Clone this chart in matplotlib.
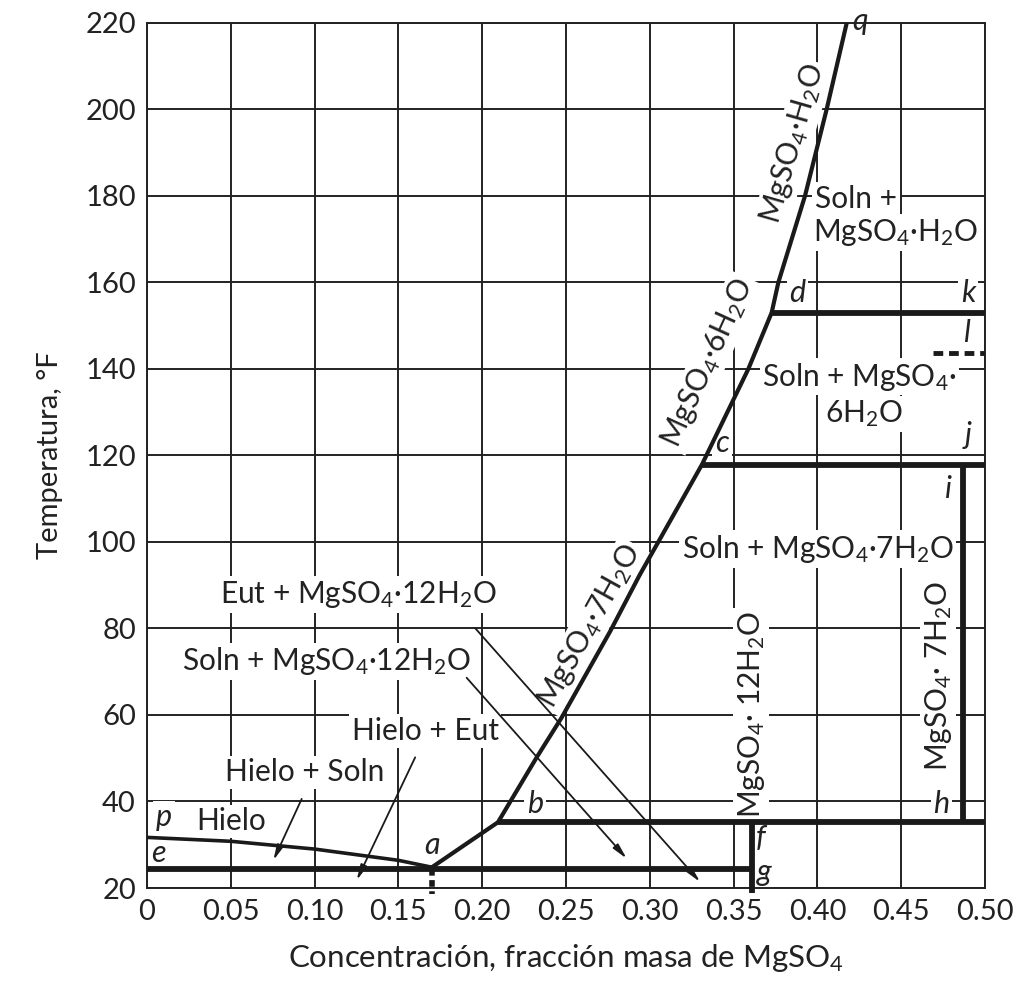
import matplotlib
matplotlib.use("Agg")
import matplotlib.pyplot as plt

plt.rcParams['font.family'] = ['Lato', 'DejaVu Sans']
plt.rcParams['mathtext.fontset'] = 'custom'
plt.rcParams['mathtext.rm'] = 'Lato'
plt.rcParams['mathtext.default'] = 'regular'

# phase boundaries (x = mass fraction MgSO4, t = deg F)
ice_x = [0.0, 0.05, 0.10, 0.15, 0.170]
ice_t = [31.7, 30.8, 29.0, 26.4, 24.8]

sat_x = [0.170, 0.2094, 0.2325, 0.2474, 0.2763, 0.294, 0.331, 0.3588, 0.3727, 0.3767, 0.3926, 0.4055, 0.4175]
sat_t = [24.8, 35.2, 50.2, 59.4, 79.3, 92.4, 117.8, 140.0, 153.0, 160.0, 180.0, 200.0, 220.0]

t_eut = 24.5
t_b = 35.2
t_c = 117.8
t_d = 153.0
t_l = 143.7
x_a = 0.170
x_b = 0.2094
x_c = 0.331
x_d = 0.3727
x_f = 0.361
x_h = 0.487
x_l = 0.469

# arrows: (label start) -> (arrow tip)
arrows = [
    ((0.1957, 80.1), (0.330, 21.4)),
    ((0.1907, 68.6), (0.2862, 26.8)),
    ((0.160, 50.2), (0.1251, 21.8)),
    ((0.0923, 40.6), (0.0754, 26.4)),
]

x_ticks = [0, 0.05, 0.10, 0.15, 0.20, 0.25, 0.30, 0.35, 0.40, 0.45, 0.50]
x_labels = ['0', '0.05', '0.10', '0.15', '0.20', '0.25', '0.30', '0.35', '0.40', '0.45', '0.50']
y_ticks = [20, 40, 60, 80, 100, 120, 140, 160, 180, 200, 220]

fig = plt.figure(figsize=(10.23, 9.88), dpi=100)
ax = fig.add_axes([0.1437, 0.1012, 0.8192, 0.8758])
ax.set_xlim(0, 0.5)
ax.set_ylim(20, 220)
ax.set_xticks(x_ticks)
ax.set_xticklabels(x_labels)
ax.set_yticks(y_ticks)
ax.tick_params(length=0, labelsize=21, pad=8, colors='#222222')
ax.grid(True, color='#222222', lw=1.4, zorder=0)
ax.set_axisbelow(True)
for s in ax.spines.values():
    s.set_linewidth(1.4)
    s.set_color('#222222')

ax.set_xlabel(r'Concentración, fracción masa de MgSO$_4$', fontsize=22.5, labelpad=12, color='#222222')
ax.set_ylabel('Temperatura, °F', fontsize=21, labelpad=16, color='#222222')

k = '#1a1a1a'
# ice line and saturation curve
ax.plot(ice_x, ice_t, color=k, lw=2.6, zorder=4, solid_capstyle='butt')
ax.plot(sat_x, sat_t, color=k, lw=3.0, zorder=4, solid_joinstyle='round')
# horizontal invariant lines
ax.plot([0, x_f], [t_eut, t_eut], color=k, lw=4.2, zorder=4, solid_capstyle='butt')
ax.plot([x_b, 0.5], [t_b, t_b], color=k, lw=4.2, zorder=4, solid_capstyle='butt')
ax.plot([x_c, 0.5], [t_c, t_c], color=k, lw=4.2, zorder=4, solid_capstyle='butt')
ax.plot([x_d, 0.5], [t_d, t_d], color=k, lw=4.2, zorder=4, solid_capstyle='butt')
ax.plot([x_l, 0.5], [t_l, t_l], color=k, lw=3.5, ls=(0, (2.0, 1.2)), zorder=4)
# verticals
ax.plot([x_f, x_f], [18.8, t_b], color=k, lw=4.2, zorder=4, clip_on=False, solid_capstyle='butt')
ax.plot([x_h, x_h], [t_b, t_c], color=k, lw=4.2, zorder=4, solid_capstyle='butt')
ax.plot([x_a, x_a], [t_eut, 18.6], color=k, lw=4.0, ls=(0, (1.2, 0.8)), zorder=4, clip_on=False)

for (x0, y0), (x1, y1) in arrows:
    ax.annotate('', xy=(x1, y1), xytext=(x0, y0), zorder=3,
                arrowprops=dict(arrowstyle='-|>,head_length=0.9,head_width=0.2',
                                color=k, lw=1.3, shrinkA=0, shrinkB=0))

box = dict(fc='white', ec='none', pad=2)
fs = 21.5

def label(x, y, s, **kw):
    kw.setdefault('fontsize', fs)
    ax.text(x, y, s, ha='center', va='center', color='#222222', bbox=box, zorder=2, **kw)

# point letters
for x, y, s in [(0.010, 36.3, 'p'), (0.007, 28.0, 'e'), (0.170, 29.9, 'a'), (0.2315, 39.5, 'b'),
                (0.343, 122.8, 'c'), (0.388, 157.5, 'd'), (0.366, 31.5, 'f'), (0.368, 23.7, 'g'),
                (0.474, 39.5, 'h'), (0.478, 112.2, 'i'), (0.490, 124.6, 'j'), (0.490, 157.5, 'k'),
                (0.489, 148.3, 'l'), (0.4255, 220.5, 'q')]:
    ax.text(x, y, s, ha='center', va='center', color='#222222', fontsize=22,
            style='italic', bbox=box, zorder=2)

label(0.05, 35.4, 'Hielo')
label(0.094, 46.7, 'Hielo + Soln')
label(0.166, 56.3, 'Hielo + Eut')
label(0.107, 72.4, r'Soln + MgSO$_4$·12H$_2$O')
label(0.126, 87.8, r'Eut + MgSO$_4$·12H$_2$O')
label(0.400, 98.4, r'Soln + MgSO$_4$·7H$_2$O')
label(0.425, 138.2, r'Soln + MgSO$_4$·')
label(0.428, 129.6, r'6H$_2$O')
ax.text(0.3986, 179.3, 'Soln +', ha='left', va='center', fontsize=fs, color='#222222', bbox=box, zorder=2)
ax.text(0.3975, 171.5, r'MgSO$_4$·H$_2$O', ha='left', va='center', fontsize=fs, color='#222222', bbox=box, zorder=2)
label(0.3605, 60.2, r'MgSO$_4$· 12H$_2$O', rotation=90)
label(0.472, 69.0, r'MgSO$_4$· 7H$_2$O', rotation=90)
label(0.264, 80.5, r'MgSO$_4$·7H$_2$O', rotation=61)
label(0.3345, 141.4, r'MgSO$_4$·6H$_2$O', rotation=65.5)
label(0.3855, 192.0, r'MgSO$_4$·H$_2$O', rotation=74)

fig.savefig('out.png', dpi=100)
